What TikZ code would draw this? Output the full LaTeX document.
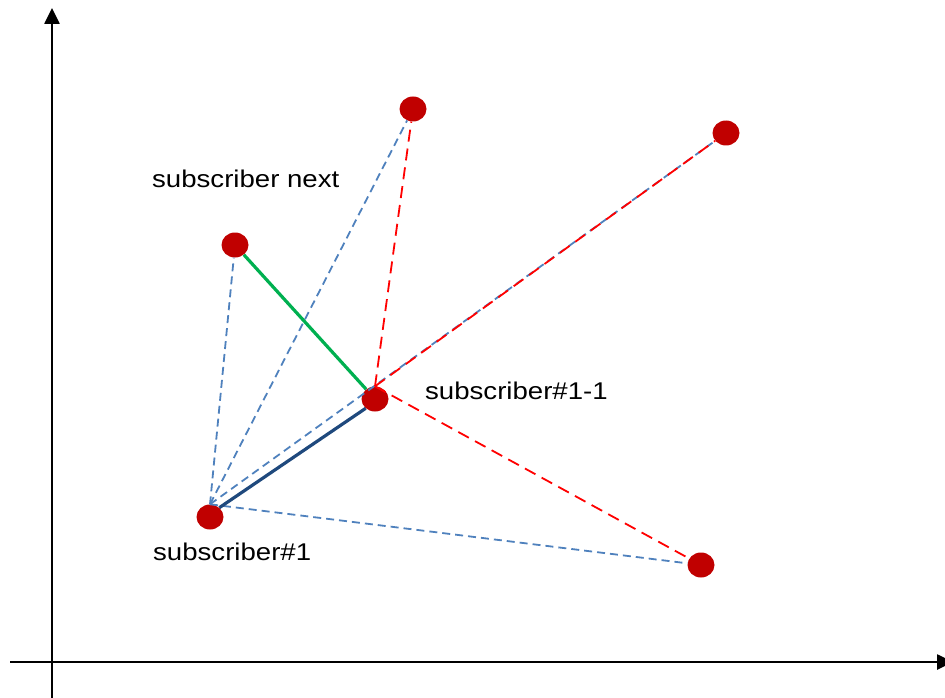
\documentclass[tikz,border=0pt]{standalone}
\usepackage{fontspec}
\newfontfamily\lblfont[FakeStretch=1.14]{Liberation Sans}
\usetikzlibrary{shapes.geometric,arrows.meta}

\definecolor{dotred}{HTML}{C00000}
\definecolor{linkblue}{HTML}{4F81BD}
\definecolor{navy}{HTML}{1F497D}
\definecolor{okgreen}{HTML}{00B050}

\tikzset{
  subdot/.style={ellipse, fill=dotred, draw=none, minimum width=27pt, minimum height=25pt, inner sep=0pt},
  axis/.style={line width=2.6pt, -{Triangle[width=15pt,length=16pt]}},
  bluedash/.style={linkblue, line width=1.8pt, dash pattern=on 8pt off 5pt},
  reddash/.style={red, line width=1.8pt, dash pattern=on 12pt off 7pt},
  pathline/.style={line width=3.2pt},
  lbl/.style={anchor=base west, inner sep=0pt, font=\lblfont\fontsize{24.2}{29}\selectfont}
}

\begin{document}
\begin{tikzpicture}[x=1pt, y=-1pt]
  \useasboundingbox (0,0) rectangle (945,698);

  % axes
  \coordinate (ybot) at (52,698);
  \coordinate (ytop) at (52,8);
  \coordinate (xleft) at (10,662);
  \coordinate (xright) at (953,662);
  \draw[axis] (ybot) -- (ytop);
  \draw[axis] (xleft) -- (xright);

  % subscribers
  \node[subdot] (s1)   at (210,517) {};
  \node[subdot] (s11)  at (375,399) {};
  \node[subdot] (snx)  at (235,245) {};
  \node[subdot] (top)  at (413,109) {};
  \node[subdot] (far)  at (726,133) {};
  \node[subdot] (low)  at (701,565) {};

  % candidate links from subscriber#1
  \draw[bluedash] (s1.north) -- (snx);
  \draw[bluedash] (s1.north) -- (top);
  \draw[bluedash] (s1.north) -- (far);
  \draw[bluedash] (s1.north) -- (low);

  % candidate links from subscriber#1-1
  \draw[reddash] (s11.north) -- (top);
  \draw[reddash] (s11.north) -- (far);
  \draw[reddash] (s11.north) -- (low);

  % chosen path
  \draw[pathline, navy] (s1.45) -- (s11.225);
  \draw[pathline, okgreen] (snx) -- (s11);

  % labels
  \node[lbl] (lnx) at (152,187) {subscriber next};
  \node[lbl] (l11) at (425,399) {subscriber\#1-1};
  \node[lbl] (l1)  at (153,560) {subscriber\#1};
\end{tikzpicture}
\end{document}
